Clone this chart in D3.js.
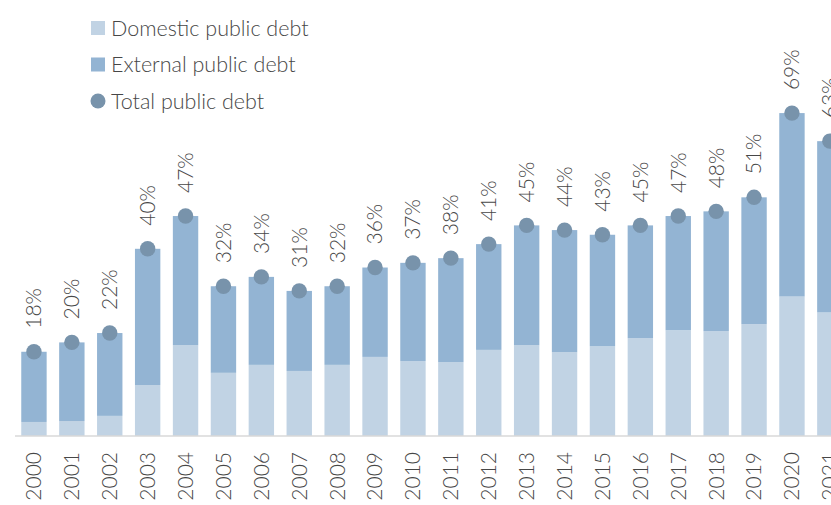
<!DOCTYPE html>
<html>
<head>
<meta charset="utf-8">
<script src="https://cdn.jsdelivr.net/npm/d3@7"></script>
<style>
  html, body { margin: 0; padding: 0; background: #fff; }
  svg { display: block; }
  text { font-family: Lato, "Open Sans", sans-serif; font-weight: 300; fill: #474747; }
</style>
</head>
<body>
<svg id="chart" width="831" height="505"></svg>
<script>
// Public debt, % of GDP
const years = ["2000","2001","2002","2003","2004","2005","2006","2007","2008","2009","2010",
               "2011","2012","2013","2014","2015","2016","2017","2018","2019","2020","2021"];
const domestic = [3.0, 3.2, 4.3, 10.9, 19.4, 13.5, 15.2, 13.9, 15.2, 16.9, 16.0,
                  15.8, 18.4, 19.4, 17.9, 19.2, 20.9, 22.6, 22.4, 23.9, 29.8, 26.4];
const total = [18, 20, 22, 40, 47, 32, 34, 31, 32, 36, 37,
               38, 41, 45, 44, 43, 45, 47, 48, 51, 69, 63];
const external = total.map((t, i) => +(t - domestic[i]).toFixed(1));

const legendLabels = ["Domestic public debt", "External public debt", "Total public debt"];
const colors = { domestic: "#c1d3e4", external: "#93b4d3", total: "#7893ab" };

const svg = d3.select("#chart");

const x = d3.scaleBand()
  .domain(years)
  .range([15, 15 + years.length * 37.9])
  .paddingInner(0.33)
  .paddingOuter(0.165);

const y = d3.scaleLinear().domain([0, 70]).range([436, 108.4]);

const rows = years.map((yr, i) => ({ yr, d: domestic[i], e: external[i], t: total[i] }));

// stacked bars: domestic at the bottom, external on top
svg.append("g").selectAll("rect.dom").data(rows).join("rect")
  .attr("x", d => x(d.yr))
  .attr("width", x.bandwidth())
  .attr("y", d => y(d.d))
  .attr("height", d => y(0) - y(d.d))
  .attr("fill", colors.domestic);

svg.append("g").selectAll("rect.ext").data(rows).join("rect")
  .attr("x", d => x(d.yr))
  .attr("width", x.bandwidth())
  .attr("y", d => y(d.d + d.e))
  .attr("height", d => y(d.d) - y(d.d + d.e))
  .attr("fill", colors.external);

// baseline axis
const axis = svg.append("g")
  .attr("transform", `translate(0,${y(0)})`)
  .call(d3.axisBottom(x).tickSize(0).tickPadding(0));
axis.select(".domain").attr("stroke", "#d9d9d9").attr("stroke-width", 1.5)
  .attr("d", `M15,0H831`);
axis.selectAll(".tick text")
  .attr("transform", "rotate(-90)")
  .attr("x", -16)
  .attr("y", 0)
  .attr("dy", "0.35em")
  .style("text-anchor", "end")
  .style("font-size", "21px")
  .style("font-family", "Lato, 'Open Sans', sans-serif")
  .style("font-weight", 300)
  .attr("fill", "#474747");

// total debt markers
svg.append("g").selectAll("circle").data(rows).join("circle")
  .attr("cx", d => x(d.yr) + x.bandwidth() / 2)
  .attr("cy", d => y(d.t))
  .attr("r", 7.7)
  .attr("fill", colors.total);

// value labels
svg.append("g").selectAll("text").data(rows).join("text")
  .attr("transform", d => `translate(${x(d.yr) + x.bandwidth() / 2},${y(d.t) - 23}) rotate(-90)`)
  .attr("dy", "0.35em")
  .style("font-size", "21px")
  .text(d => d.t + "%");

// legend
const legend = svg.append("g");
legendLabels.forEach((lab, i) => {
  const cy = 28 + i * 36.5;
  if (i < 2) {
    legend.append("rect").attr("x", 91).attr("y", cy - 7).attr("width", 14).attr("height", 14)
      .attr("fill", i === 0 ? colors.domestic : colors.external);
  } else {
    legend.append("circle").attr("cx", 98).attr("cy", cy).attr("r", 7.5).attr("fill", colors.total);
  }
  legend.append("text").attr("x", 111).attr("y", cy).attr("dy", "0.35em")
    .style("font-size", "21.5px").text(lab);
});
</script>
</body>
</html>
